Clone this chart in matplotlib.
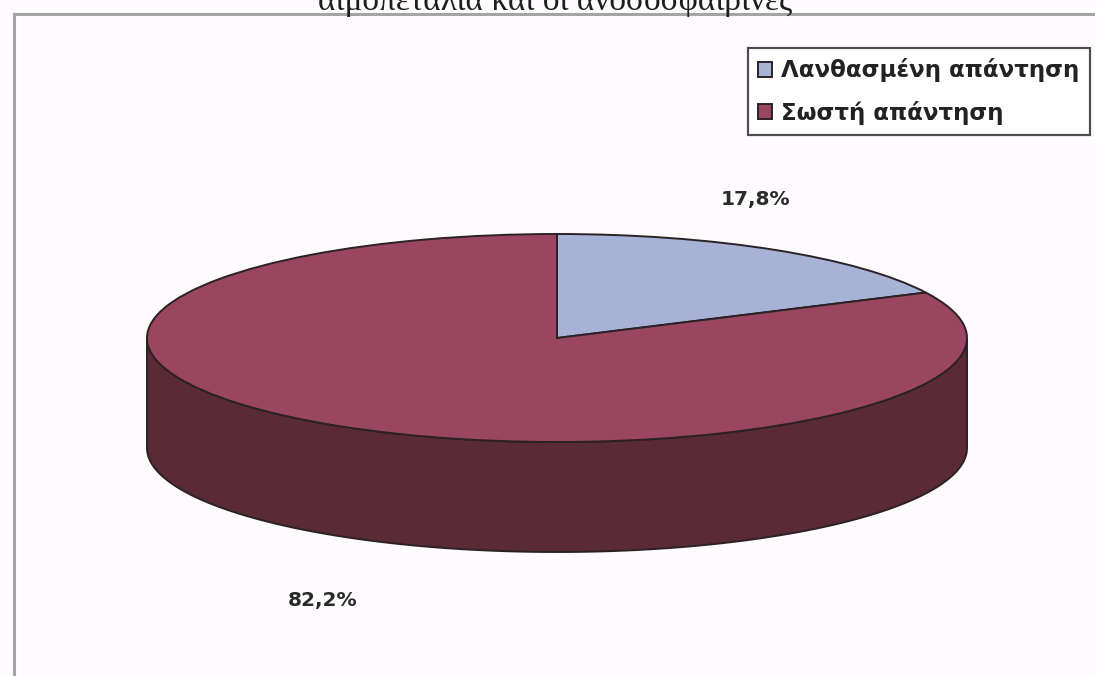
import numpy as np
import matplotlib.pyplot as plt
from matplotlib.patches import Polygon
from matplotlib.lines import Line2D

# ---- data ----
categories = ['Λανθασμένη απάντηση', 'Σωστή απάντηση']
shares = [17.8, 82.2]
title_text = 'αιμοπετάλια και οι ανοσοσφαιρίνες'

# ---- style ----
top_colors = ['#A6B2D6', '#9A4660']
side_colors = ['#5E6A8A', '#5A2A36']
edge_col = '#2c2226'
bg = '#fdfbfd'

W, H = 1095, 676
cx_px, cy_px = 557, 338      # centre of the pie's top face (pixels from top-left)
rx_px, ry_px = 410, 104      # semi-axes of the top face
depth_px = 110               # thickness of the disc

fig = plt.figure(figsize=(W / 100, H / 100), dpi=100, facecolor=bg)
ax = fig.add_axes([0, 0, 1, 1])
ax.set_facecolor(bg)

# top face of the disc
wedges, _ = ax.pie(shares, colors=top_colors, startangle=90, counterclock=False,
                   wedgeprops=dict(edgecolor=edge_col, linewidth=1.4))
for w in wedges:
    w.set_zorder(3)

# squash the unit circle into the flattened ellipse
ax.set_aspect('auto')
ax.set_xlim(-cx_px / rx_px, (W - cx_px) / rx_px)
ax.set_ylim(-(H - cy_px) / ry_px, cy_px / ry_px)
ax.axis('off')

# side wall: for each wedge, the part of its rim lying on the front half
d = depth_px / ry_px
total = sum(shares)
start = 90.0
for val, scol in zip(shares, side_colors):
    sweep = 360.0 * val / total
    a0, a1 = start - sweep, start          # angular extent (counter-clockwise)
    start -= sweep
    # intersect with the front half [180, 360] in each 360-degree window
    for shift in (-360, 0, 360):
        lo = max(a0 + shift, 180.0)
        hi = min(a1 + shift, 360.0)
        if hi > lo:
            t = np.radians(np.linspace(lo, hi, 200))
            xs = np.cos(t)
            ys = np.sin(t)
            pts = np.concatenate([np.column_stack([xs, ys]),
                                  np.column_stack([xs[::-1], ys[::-1] - d])])
            ax.add_patch(Polygon(pts, closed=True, facecolor=scol,
                                 edgecolor=edge_col, linewidth=1.4, zorder=2))

# percentage labels
label_pos = [(0.485, 1.33), (-0.573, -2.52)]
for val, (lx, ly) in zip(shares, label_pos):
    ax.text(lx, ly, f'{val:.1f}%'.replace('.', ','), ha='center', va='center',
            fontsize=14.5, fontweight='bold', color='#2a2a2a',
            family='DejaVu Sans')

# legend
leg = fig.legend(wedges, categories, loc='upper right',
                 bbox_to_anchor=(1090 / W, 1 - 48 / H), borderaxespad=0,
                 frameon=True, fancybox=False, edgecolor='#222222',
                 prop=dict(family='DejaVu Sans', weight='bold', size=16.5),
                 handlelength=0.62, handleheight=0.62, handletextpad=0.4,
                 labelspacing=0.8, borderpad=0.45)
leg.get_frame().set_linewidth(1.6)
leg.get_frame().set_facecolor('white')
for t in leg.get_texts():
    t.set_color('#222222')

# outer chart frame (left and top edges)
fr = dict(color='#a4a4a4', linewidth=2.2, transform=fig.transFigure)
fig.add_artist(Line2D([14 / W, 14 / W], [0, 1 - 14 / H], **fr))
fig.add_artist(Line2D([14 / W, 1], [1 - 14 / H, 1 - 14 / H], **fr))

# title, partially cut off at the top edge
fig.text(555 / W, 1 - 10 / H, title_text, ha='center', va='baseline',
         fontsize=24, family='Liberation Serif', color='#1e1e1e')

fig.savefig('out.png', dpi=100, facecolor=bg)
